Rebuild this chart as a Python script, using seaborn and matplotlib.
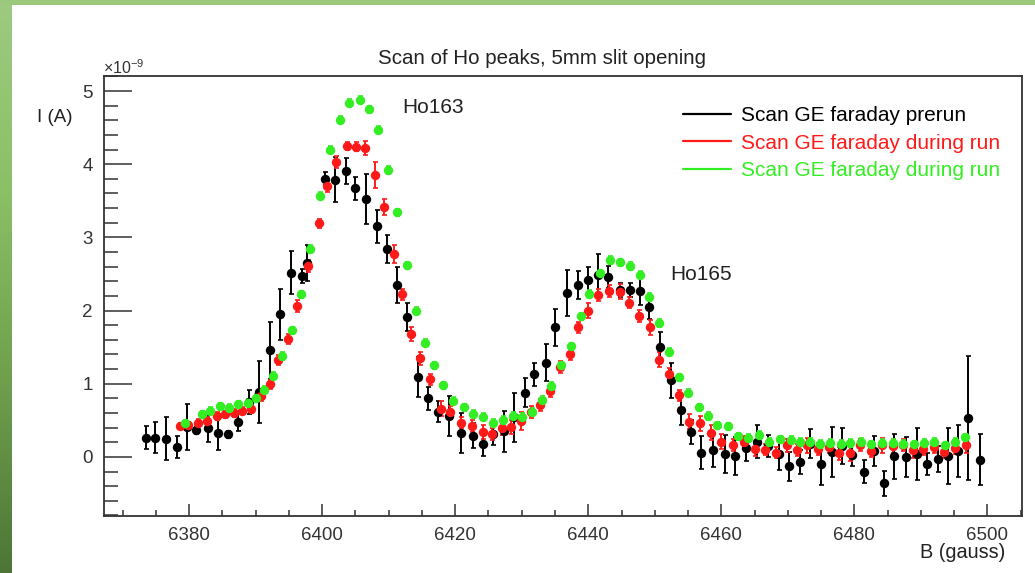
import numpy as np
import pandas as pd
import matplotlib
matplotlib.use("Agg")
import matplotlib.pyplot as plt
from matplotlib.lines import Line2D
from matplotlib.ticker import MultipleLocator
import seaborn as sns

# ---- scan data (B in gauss, I in units of 1e-9 A) ----
prerun_b = [6373.5, 6374.9, 6376.5, 6378.2, 6379.7, 6381.05, 6382.8, 6384.4, 6385.9, 6387.4,
            6389.0, 6390.5, 6392.1, 6393.7, 6395.3, 6397.0, 6397.7, 6400.45, 6402.0, 6403.6,
            6405.0, 6406.6, 6408.2, 6409.8, 6411.2, 6412.8, 6414.4, 6415.9, 6417.4, 6419.1,
            6420.9, 6422.6, 6424.2, 6425.7, 6427.4, 6428.9, 6430.5, 6431.9, 6433.6, 6435.0,
            6436.8, 6438.4, 6439.9, 6441.4, 6443.0, 6444.7, 6446.3, 6447.8, 6449.2, 6450.8,
            6452.4, 6453.9, 6455.4, 6457.0, 6458.7, 6460.5, 6462.1, 6463.7, 6465.4, 6467.0,
            6468.6, 6470.1, 6471.8, 6473.4, 6475.0, 6476.6, 6478.1, 6479.7, 6481.5, 6483.0,
            6484.5, 6486.0, 6487.7, 6489.4, 6490.9, 6492.5, 6494.1, 6495.6, 6497.1, 6498.9]
prerun_i = [0.265, 0.265, 0.25, 0.14, 0.41, 0.365, 0.40, 0.33, 0.31, 0.48,
            0.75, 0.89, 1.46, 1.95, 2.52, 2.47, 2.65, 3.80, 3.79, 3.91,
            3.67, 3.52, 3.15, 2.84, 2.35, 1.91, 1.09, 0.80, 0.62, 0.56,
            0.33, 0.29, 0.18, 0.31, 0.35, 0.54, 0.88, 1.13, 1.29, 1.77,
            2.24, 2.35, 2.42, 2.49, 2.46, 2.28, 2.28, 2.27, 2.05, 1.50,
            1.05, 0.64, 0.34, 0.06, 0.09, 0.04, 0.01, 0.12, 0.21, 0.15,
            0.04, -0.13, -0.07, 0.18, -0.10, 0.07, 0.15, 0.03, -0.20, 0.08,
            -0.36, 0.01, 0.00, 0.04, -0.10, -0.03, 0.01, 0.08, 0.53, -0.04]
prerun_err = [0.16, 0.21, 0.29, 0.15, 0.32, 0.05, 0.20, 0.23, 0.05, 0.12,
              0.17, 0.42, 0.39, 0.35, 0.30, 0.10, 0.25, 0.09, 0.31, 0.18,
              0.16, 0.34, 0.23, 0.19, 0.25, 0.19, 0.27, 0.16, 0.14, 0.27,
              0.27, 0.17, 0.17, 0.15, 0.28, 0.34, 0.20, 0.16, 0.25, 0.25,
              0.32, 0.19, 0.18, 0.28, 0.15, 0.10, 0.10, 0.20, 0.16, 0.21,
              0.24, 0.20, 0.16, 0.22, 0.23, 0.26, 0.26, 0.17, 0.23, 0.15,
              0.22, 0.20, 0.16, 0.20, 0.28, 0.34, 0.25, 0.15, 0.16, 0.20,
              0.17, 0.31, 0.27, 0.35, 0.15, 0.18, 0.38, 0.36, 0.85, 0.35]

run1_b = [6378.65, 6379.9, 6381.4, 6382.75, 6384.2, 6385.4, 6386.8, 6388.0, 6389.3, 6390.8,
          6392.2, 6393.4, 6394.8, 6396.2, 6397.8, 6399.5, 6400.75, 6402.1, 6403.7, 6405.1,
          6406.5, 6408.0, 6409.3, 6410.8, 6412.0, 6413.3, 6414.7, 6416.2, 6417.8, 6419.2,
          6420.8, 6422.5, 6424.1, 6425.6, 6427.0, 6428.4, 6429.9, 6431.4, 6432.8, 6434.3,
          6435.7, 6437.2, 6438.4, 6440.0, 6441.4, 6443.1, 6444.7, 6446.1, 6447.6, 6449.3,
          6450.7, 6452.1, 6453.7, 6455.2, 6456.8, 6458.4, 6459.9, 6461.7, 6463.4, 6465.0,
          6466.6, 6468.2, 6469.8, 6471.4, 6472.9, 6474.5, 6476.2, 6477.7, 6479.3, 6480.9,
          6482.5, 6484.2, 6485.8, 6487.3, 6488.8, 6490.3, 6491.9, 6493.5, 6495.2, 6496.8]
run1_i = [0.42, 0.44, 0.47, 0.49, 0.56, 0.58, 0.60, 0.63, 0.65, 0.83,
          0.99, 1.32, 1.61, 2.06, 2.61, 3.19, 3.70, 4.03, 4.25, 4.24,
          4.22, 3.85, 3.42, 2.77, 2.22, 1.68, 1.35, 1.06, 0.66, 0.61,
          0.47, 0.42, 0.34, 0.31, 0.39, 0.41, 0.49, 0.61, 0.71, 0.90,
          1.23, 1.41, 1.77, 2.00, 2.21, 2.27, 2.26, 2.11, 1.93, 1.77,
          1.33, 1.14, 0.84, 0.48, 0.46, 0.33, 0.21, 0.16, 0.21, 0.11,
          0.10, 0.06, 0.16, 0.09, 0.16, 0.11, 0.14, 0.05, 0.05, 0.16,
          0.08, 0.16, 0.15, 0.16, 0.09, 0.11, 0.13, 0.07, 0.12, 0.16]
run1_err = [0.04, 0.04, 0.05, 0.05, 0.05, 0.05, 0.05, 0.05, 0.05, 0.06,
            0.06, 0.07, 0.07, 0.08, 0.08, 0.06, 0.08, 0.08, 0.06, 0.06,
            0.10, 0.18, 0.11, 0.12, 0.08, 0.10, 0.09, 0.08, 0.10, 0.09,
            0.08, 0.08, 0.10, 0.08, 0.09, 0.10, 0.12, 0.08, 0.08, 0.08,
            0.08, 0.08, 0.08, 0.10, 0.08, 0.08, 0.10, 0.08, 0.08, 0.10,
            0.10, 0.08, 0.08, 0.10, 0.10, 0.10, 0.10, 0.08, 0.08, 0.10,
            0.08, 0.08, 0.09, 0.08, 0.10, 0.08, 0.08, 0.09, 0.10, 0.08,
            0.08, 0.10, 0.09, 0.08, 0.10, 0.09, 0.08, 0.08, 0.08, 0.10]

run2_b = [6379.4, 6381.9, 6383.2, 6384.7, 6386.0, 6387.3, 6388.8, 6390.0, 6391.3, 6392.6,
          6394.0, 6395.4, 6396.8, 6398.2, 6399.7, 6401.2, 6402.7, 6404.1, 6405.7, 6407.1,
          6408.4, 6409.9, 6411.2, 6412.7, 6414.1, 6415.4, 6416.8, 6418.1, 6419.7, 6421.3,
          6422.7, 6424.2, 6425.7, 6427.2, 6428.7, 6430.1, 6431.5, 6433.0, 6434.4, 6435.9,
          6437.4, 6438.9, 6440.1, 6441.7, 6443.2, 6444.7, 6446.2, 6447.7, 6449.2, 6450.6,
          6452.1, 6453.6, 6455.0, 6456.6, 6458.0, 6459.4, 6461.0, 6462.5, 6464.0, 6465.6,
          6467.1, 6468.8, 6470.4, 6471.9, 6473.4, 6474.9, 6476.4, 6478.0, 6479.4, 6481.0,
          6482.5, 6484.2, 6485.8, 6487.3, 6489.0, 6490.5, 6492.0, 6493.6, 6495.1, 6496.7]
run2_i = [0.46, 0.58, 0.63, 0.69, 0.67, 0.72, 0.74, 0.81, 0.92, 1.11,
          1.38, 1.73, 2.22, 2.84, 3.57, 4.20, 4.61, 4.84, 4.88, 4.75,
          4.47, 3.92, 3.34, 2.62, 2.00, 1.56, 1.25, 0.98, 0.77, 0.68,
          0.59, 0.55, 0.47, 0.51, 0.56, 0.55, 0.62, 0.78, 0.97, 1.25,
          1.51, 1.92, 2.23, 2.51, 2.69, 2.66, 2.61, 2.49, 2.19, 1.83,
          1.44, 1.09, 0.88, 0.68, 0.56, 0.43, 0.42, 0.28, 0.26, 0.30,
          0.21, 0.24, 0.23, 0.21, 0.21, 0.18, 0.19, 0.18, 0.19, 0.21,
          0.17, 0.19, 0.19, 0.18, 0.17, 0.19, 0.21, 0.16, 0.21, 0.27]
run2_err = [0.05] * 80

series = [
    ("Scan GE faraday prerun", prerun_b, prerun_i, prerun_err, "#000000"),
    ("Scan GE faraday during run", run1_b, run1_i, run1_err, "#ff1a1a"),
    ("Scan GE faraday during run", run2_b, run2_i, run2_err, "#33ee22"),
]

sns.set_theme(style="white")
plt.rcParams["font.family"] = ["Liberation Sans", "DejaVu Sans"]
plt.rcParams["mathtext.fontset"] = "custom"
plt.rcParams["mathtext.rm"] = "Liberation Sans"
plt.rcParams["mathtext.it"] = "Liberation Sans:italic"

W, H = 1035, 573
fig = plt.figure(figsize=(W / 100, H / 100), dpi=100)
fig.patch.set_facecolor("white")

# slide frame: gradient strip on the left, flat strip along the top
strip = fig.add_axes([0, 0, 12 / W, 1])
grad = np.linspace(0, 1, 256)[:, None]
cmap = matplotlib.colors.LinearSegmentedColormap.from_list(
    "frame", ["#9dca80", "#8ac066", "#6f9f4d", "#4d7636"])
strip.imshow(grad, aspect="auto", cmap=cmap, extent=[0, 1, 0, 1])
strip.set_axis_off()
topbar = fig.add_axes([0, 1 - 5 / H, 1, 5 / H])
topbar.set_facecolor("#9cc87e")
topbar.set_xticks([]); topbar.set_yticks([])
for s in topbar.spines.values():
    s.set_visible(False)

ax = fig.add_axes([104 / W, 1 - 516 / H, (1022 - 104) / W, (516 - 76) / H])
ax.set_facecolor("white")

for label, b, i, e, col in series:
    ax.errorbar(b, i, yerr=e, fmt="none", ecolor=col, elinewidth=1.4,
                capsize=1.8, capthick=1.2, zorder=2)
    df = pd.DataFrame({"B": b, "I": i})
    sns.scatterplot(data=df, x="B", y="I", ax=ax, color=col, s=46,
                    edgecolor=col, linewidth=0, zorder=3, legend=False)

ax.set_xlim(6367.2, 6505.2)
ax.set_ylim(-0.807, 5.205)
ax.set_xlabel(""); ax.set_ylabel("")

ax.xaxis.set_major_locator(MultipleLocator(20))
ax.xaxis.set_minor_locator(MultipleLocator(5))
ax.yaxis.set_major_locator(MultipleLocator(1))
ax.yaxis.set_minor_locator(MultipleLocator(0.2))
ax.tick_params(axis="x", which="major", direction="in", length=8.6, width=1.1,
               color="#333333", labelsize=13.5, labelcolor="#333333", pad=8,
               bottom=True, top=False)
ax.tick_params(axis="x", which="minor", direction="in", length=4.3, width=1.1,
               color="#333333", bottom=True, top=False)
ax.tick_params(axis="y", which="major", direction="in", length=20, width=1.1,
               color="#333333", labelsize=13.5, labelcolor="#333333", pad=8,
               left=True, right=False)
ax.tick_params(axis="y", which="minor", direction="in", length=10, width=1.1,
               color="#333333", left=True, right=False)
for s in ax.spines.values():
    s.set_visible(True)
    s.set_color("#333333")
    s.set_linewidth(1.3)

# peak annotations
ax.text(6412.0, 4.77, "Ho163", fontsize=15, color="#222222", va="center", ha="left")
ax.text(6452.3, 2.49, "Ho165", fontsize=15, color="#222222", va="center", ha="left")

# legend with lines and coloured labels
handles = [Line2D([0], [0], color=c, lw=1.6) for _, _, _, _, c in series]
labels = [s[0] for s in series]
leg = ax.legend(handles, labels, loc="upper left", bbox_to_anchor=(0.6307, 0.932),
                frameon=False, fontsize=15, handlelength=2.3, handletextpad=0.48,
                labelspacing=0.42, borderaxespad=0, borderpad=0,
                labelcolor=[c for _, _, _, _, c in series])

fig.text(542 / W, 1 - 58 / H, "Scan of Ho peaks, 5mm slit opening", fontsize=14.8,
         color="#222222", ha="center", va="center")
fig.text(103 / W, 1 - 68 / H, r"$\times10^{-9}$", fontsize=11.5, color="#333333",
         ha="left", va="center")
fig.text(37 / W, 1 - 117 / H, "I (A)", fontsize=13.5, color="#222222",
         ha="left", va="center")
fig.text(1005 / W, 1 - 553 / H, "B (gauss)", fontsize=14.3, color="#222222",
         ha="right", va="center")

fig.savefig("out.png", dpi=100)
